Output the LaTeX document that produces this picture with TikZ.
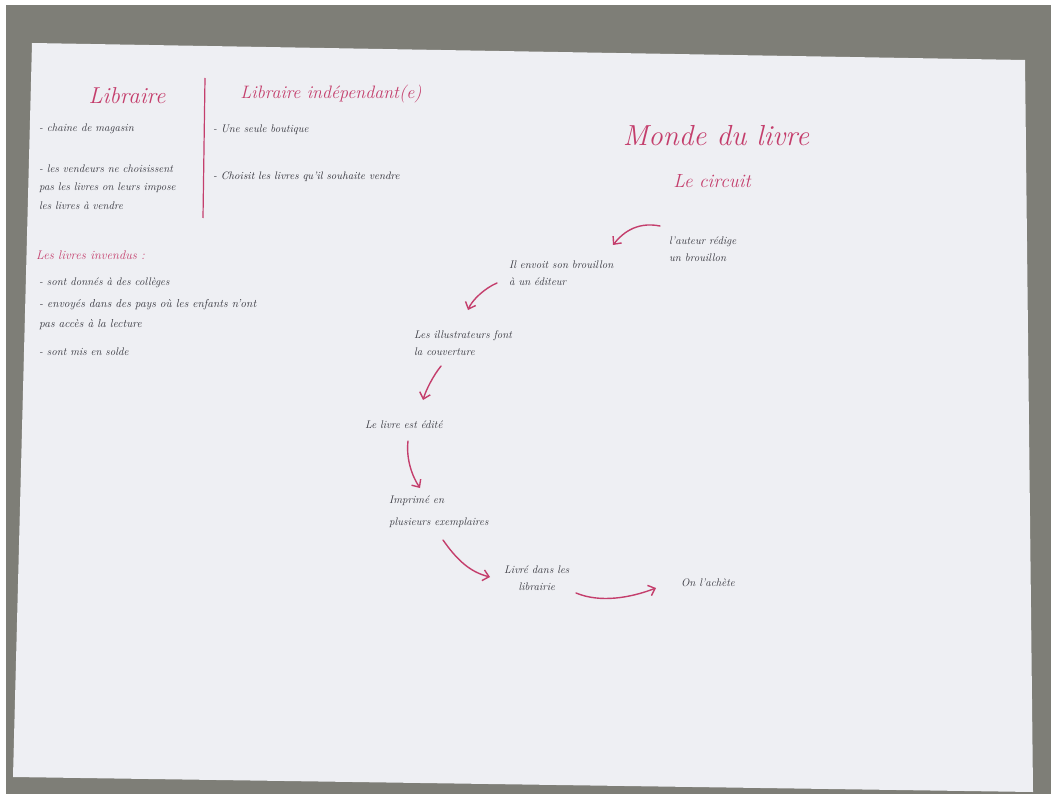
\documentclass[tikz,border=0pt]{standalone}
\usetikzlibrary{arrows.meta}
\definecolor{wall}{RGB}{126,126,119}
\definecolor{paper}{RGB}{238,239,243}
\definecolor{ink}{RGB}{50,50,58}
\definecolor{pinkink}{RGB}{196,62,108}
\tikzset{
  txt/.style={anchor=west, inner sep=1pt, text=ink, font=\fontsize{11}{17}\selectfont\itshape, align=left},
  ttl/.style={inner sep=1pt, text=pinkink, font=\fontsize{23}{25}\selectfont\itshape},
  arr/.style={draw=pinkink, line width=1.4pt, line cap=round, -{Straight Barb[length=6pt,width=11pt]}},
}
\begin{document}
\begin{tikzpicture}[x=1pt,y=-1pt]
\useasboundingbox (0,0) rectangle (1051,794);
\fill[wall] (0,0) rectangle (1051,794);
\fill[white] (0,0) rectangle (1051,5);
\fill[white] (0,0) rectangle (6,794);
\fill[paper] (32,43) -- (1025,60) -- (1033,792) -- (13,777) -- cycle;

% left column: Libraire
\node[ttl] (libraire) at (127,96) {Libraire};
\node[txt] (chaine) at (38,129) {- chaine de magasin};
\node[txt, font=\fontsize{11}{18.5}\selectfont\itshape] (vendeurs) at (38,187) {- les vendeurs ne choisissent\\pas les livres on leurs impose\\les livres à vendre};
\draw[pinkink, line width=1.2pt] (205,78) -- (203,218);

% Libraire independant
\node[ttl, font=\fontsize{18}{20}\selectfont\itshape] (indep) at (331,94) {Libraire indépendant(e)};
\node[txt] (boutique) at (212,130) {- Une seule boutique};
\node[txt, font=\fontsize{10.8}{17}\selectfont\itshape] (choisit) at (212,177) {- Choisit les livres qu'il souhaite vendre};

% invendus
\node[ttl, anchor=west, font=\fontsize{12.5}{14}\selectfont\itshape] (invendus) at (35,255) {Les livres invendus :};
\node[txt] (colleges) at (38,283) {- sont donnés à des collèges};
\node[txt, font=\fontsize{11.5}{20}\selectfont\itshape] (pays) at (38,315) {- envoyés dans des pays où les enfants n'ont\\pas accès à la lecture};
\node[txt] (solde) at (38,352) {- sont mis en solde};

% circuit
\node[ttl, font=\fontsize{29}{31}\selectfont\itshape] (monde) at (716,136) {Monde du livre};
\node[ttl, font=\fontsize{19}{21}\selectfont\itshape] (circuit) at (712,181) {Le circuit};

\node[txt] (auteur) at (668,249) {l'auteur rédige\\un brouillon};
\node[txt] (envoi) at (508,273) {Il envoit son brouillon\\à un éditeur};
\node[txt] (illus) at (413,343) {Les illustrateurs font\\la couverture};
\node[txt] (edite) at (364,425) {Le livre est édité};
\node[txt, font=\fontsize{11}{22}\selectfont\itshape] (imprime) at (388,512) {Imprimé en\\plusieurs exemplaires};
\node[txt, align=center] (livre) at (503,578) {Livré dans les\\librairie};
\node[txt] (achete) at (680,583) {On l'achète};

\draw[arr] ([shift={(-8,-23)}]auteur.west) .. controls +(-25,-5) and +(8,-10) .. ([shift={(105,-28)}]envoi.west);
\draw[arr] ([shift={(-11,10)}]envoi.west) .. controls +(-12,5) and +(4,-10) .. ([shift={(55,-33)}]illus.west);
\draw[arr] ([shift={(28,23)}]illus.west) .. controls +(-8,10) and +(3,-10) .. ([shift={(59,-25)}]edite.west);
\draw[arr] ([shift={(44,16)}]edite.west) .. controls +(-2,18) and +(-8,-12) .. ([shift={(32,-24)}]imprime.west);
\draw[arr] ([shift={(55,28)}]imprime.west) .. controls +(14,20) and +(-20,-5) .. ([shift={(-13,-1)}]livre.west);
\draw[arr] ([shift={(73,15)}]livre.west) .. controls +(24,10) and +(-26,10) .. ([shift={(-24,5)}]achete.west);
\end{tikzpicture}
\end{document}
